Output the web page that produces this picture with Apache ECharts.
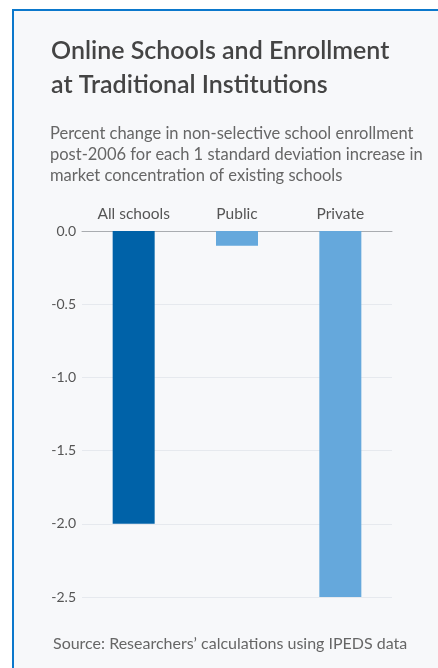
<!DOCTYPE html>
<html>
<head>
<meta charset="utf-8">
<script src="https://cdn.jsdelivr.net/npm/echarts@6/dist/echarts.min.js"></script>
<style>
  html, body { margin: 0; padding: 0; background: #fff; }
  #frame {
    position: absolute; left: 12px; top: 9px; width: 440px; height: 680px;
    background: #f7f8fa; border-left: 2px solid #0b78cc; border-top: 2px solid #0b78cc;
  }
  #chart { position: absolute; left: 0; top: 0; width: 438px; height: 668px; }
</style>
</head>
<body>
<div id="frame"></div>
<div id="chart"></div>
<script>
const categories = ['All schools', 'Public', 'Private']
const values = [-2.0, -0.1, -2.5]
const barColors = ['#0062a8', '#65a8dc', '#65a8dc']

const chart = echarts.init(document.getElementById('chart'))
const font = 'Lato, "Noto Sans", sans-serif'

chart.setOption({
  animation: false,
  textStyle: { fontFamily: font },
  title: [
    {
      text: 'Online Schools and Enrollment\nat Traditional Institutions',
      left: 51, top: 34, padding: 0,
      textStyle: { fontSize: 25, fontWeight: 600, color: '#444', lineHeight: 34, fontFamily: font }
    },
    {
      text: 'Percent change in non-selective school enrollment\npost-2006 for each 1 standard deviation increase in\nmarket concentration of existing schools',
      left: 50, top: 123, padding: 0,
      textStyle: { fontSize: 16.5, fontWeight: 'normal', color: '#666', lineHeight: 21, fontFamily: font }
    },
    {
      text: 'Source: Researchers\u2019 calculations using IPEDS data',
      left: 53, top: 634, padding: 0,
      textStyle: { fontSize: 16, fontWeight: 'normal', color: '#666', lineHeight: 20, fontFamily: font }
    }
  ],
  grid: { left: 82, right: 46, top: 231, bottom: 71 },
  xAxis: {
    type: 'category',
    position: 'top',
    data: categories,
    axisLine: { lineStyle: { color: '#a9acb0', width: 1 } },
    axisTick: { show: false },
    axisLabel: { color: '#555', fontSize: 15.5, margin: 9 }
  },
  yAxis: {
    type: 'value',
    min: -2.5,
    max: 0,
    interval: 0.5,
    axisLine: { show: false },
    axisTick: { show: false },
    splitLine: { lineStyle: { color: '#e6e9ee' } },
    axisLabel: { color: '#555', fontSize: 14, margin: 6, formatter: v => v.toFixed(1) }
  },
  series: [{
    type: 'bar',
    barWidth: 42,
    data: values.map((v, i) => ({ value: v, itemStyle: { color: barColors[i] } }))
  }]
})
</script>
</body>
</html>
